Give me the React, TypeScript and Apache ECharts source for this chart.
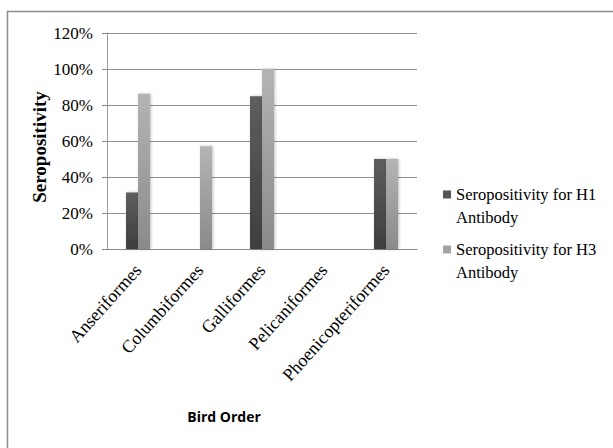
import React, { useEffect, useRef } from "react";
import * as echarts from "echarts";

const categories = ["Anseriformes", "Columbiformes", "Galliformes", "Pelicaniformes", "Phoenicopteriformes"];
const seriesNames = ["Seropositivity for H1\nAntibody", "Seropositivity for H3\nAntibody"];
const h1Values = [31.4, 0, 84.8, 0, 50];
const h3Values = [86.3, 57.1, 100, 0, 50];
const yTicks = { min: 0, max: 120, interval: 20 };

const SERIF = "Liberation Serif";

export default function App() {
  const ref = useRef<HTMLDivElement>(null);
  useEffect(() => {
    document.body.style.margin = "0";
    if (!ref.current) return;
    const chart = echarts.init(ref.current, undefined, { renderer: "svg" });
    const legendIcon =
      "path://M0,0L0.01,0L0.01,0.01Z M0,7.5L8,7.5L8,15.5L0,15.5Z M7.99,45.99L8,45.99L8,46Z";
    const grad = (top: string, bottom: string) =>
      new echarts.graphic.LinearGradient(0, 0, 0, 1, [
        { offset: 0, color: top },
        { offset: 1, color: bottom },
      ]);
    chart.setOption({
      animation: false,
      backgroundColor: "#ffffff",
      textStyle: { fontFamily: SERIF },
      graphic: [
        {
          type: "rect",
          shape: { x: 7.5, y: 11.5, width: 640, height: 480 },
          style: { fill: "none", stroke: "#8c8c8c", lineWidth: 1.5 },
          silent: true,
        },
      ],
      grid: { left: 107, right: 196, top: 33, height: 216 },
      legend: {
        orient: "vertical",
        left: 443,
        top: 183,
        padding: 0,
        itemWidth: 8,
        itemHeight: 46,
        itemGap: 9,
        icon: legendIcon,
        textStyle: { fontFamily: SERIF, fontSize: 16.5, lineHeight: 23, color: "#000" },
        data: [
          { name: seriesNames[0], itemStyle: { color: "#555555" } },
          { name: seriesNames[1], itemStyle: { color: "#a3a3a3" } },
        ],
      },
      xAxis: {
        type: "category",
        data: categories,
        name: "Bird Order",
        nameLocation: "middle",
        nameGap: 160,
        nameMoveOverlap: false,
        nameTextStyle: {
          fontFamily: "Open Sans",
          fontWeight: "bold",
          fontSize: 14,
          color: "#000",
          padding: [0, 76, 0, 0],
        },
        axisLine: { lineStyle: { color: "#8a8a8a", width: 1.2 } },
        axisTick: { show: false },
        axisLabel: {
          rotate: 48,
          margin: 18,
          interval: 0,
          fontFamily: SERIF,
          fontSize: 18,
          color: "#000",
        },
      },
      yAxis: {
        type: "value",
        min: yTicks.min,
        max: yTicks.max,
        interval: yTicks.interval,
        name: "Seropositivity",
        nameLocation: "middle",
        nameGap: 58,
        nameMoveOverlap: false,
        nameRotate: 90,
        nameTextStyle: {
          fontFamily: SERIF,
          fontWeight: "bold",
          fontSize: 19,
          color: "#000",
          padding: [0, 12, 0, 0],
        },
        axisLine: { show: true, lineStyle: { color: "#9a9a9a", width: 1 } },
        axisTick: { show: true, inside: false, length: 5, lineStyle: { color: "#8a8a8a" } },
        axisLabel: {
          formatter: "{value}%",
          margin: 14,
          fontFamily: SERIF,
          fontSize: 17,
          color: "#000",
        },
        splitLine: { show: true, lineStyle: { color: "#8f8f8f", width: 1.2 } },
      },
      series: [
        {
          name: seriesNames[0],
          type: "bar",
          data: h1Values,
          barWidth: 12,
          barGap: "0%",
          itemStyle: {
            color: grad("#5e5e5e", "#3e3e3e"),
            shadowColor: "rgba(0,0,0,0.25)",
            shadowBlur: 3,
            shadowOffsetX: 1,
          },
        },
        {
          name: seriesNames[1],
          type: "bar",
          data: h3Values,
          barWidth: 12,
          barGap: "0%",
          itemStyle: {
            color: grad("#b4b4b4", "#8a8a8a"),
            shadowColor: "rgba(0,0,0,0.25)",
            shadowBlur: 3,
            shadowOffsetX: 1,
          },
        },
      ],
    });
    return () => chart.dispose();
  }, []);
  return <div ref={ref} style={{ width: 613, height: 448 }} />;
}
